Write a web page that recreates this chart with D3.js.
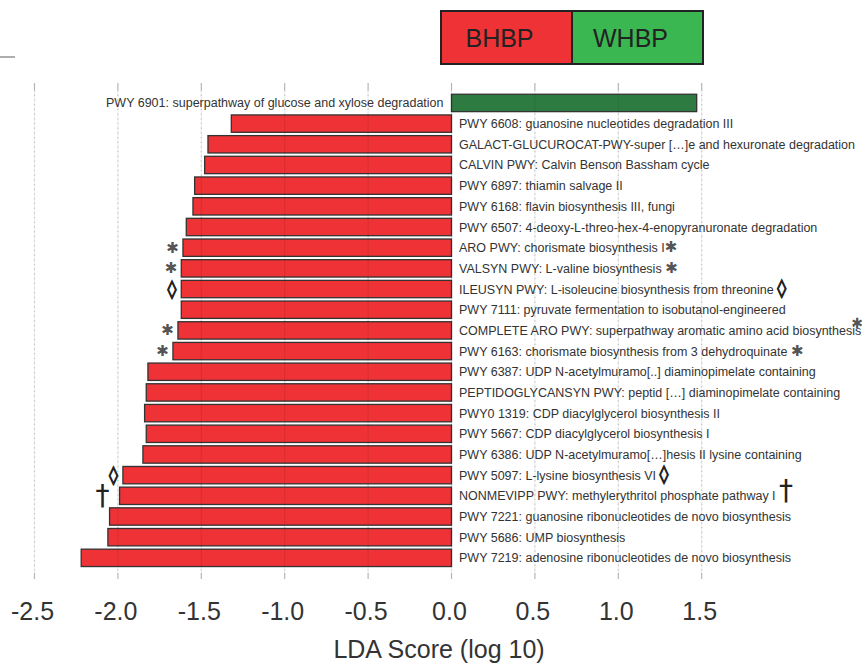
<!DOCTYPE html>
<html>
<head>
<meta charset="utf-8">
<script src="https://cdn.jsdelivr.net/npm/d3@7"></script>
<style>
  html, body { margin: 0; padding: 0; background: #fff; }
  svg { display: block; }
</style>
</head>
<body>
<svg id="chart" width="862" height="666"></svg>
<script>
// LEfSe pathways, top to bottom
const pathways = [
  "PWY 6901: superpathway of glucose and xylose degradation",
  "PWY 6608: guanosine nucleotides degradation III",
  "GALACT-GLUCUROCAT-PWY-super [\u2026]e and hexuronate degradation",
  "CALVIN PWY: Calvin Benson Bassham cycle",
  "PWY 6897: thiamin salvage II",
  "PWY 6168: flavin biosynthesis III, fungi",
  "PWY 6507: 4-deoxy-L-threo-hex-4-enopyranuronate degradation",
  "ARO PWY: chorismate biosynthesis I",
  "VALSYN PWY: L-valine biosynthesis",
  "ILEUSYN PWY: L-isoleucine biosynthesis from threonine",
  "PWY 7111: pyruvate fermentation to isobutanol-engineered",
  "COMPLETE ARO PWY: superpathway aromatic amino acid biosynthesis",
  "PWY 6163: chorismate biosynthesis from 3 dehydroquinate",
  "PWY 6387: UDP N-acetylmuramo[..] diaminopimelate containing",
  "PEPTIDOGLYCANSYN PWY: peptid [\u2026] diaminopimelate containing",
  "PWY0 1319: CDP diacylglycerol biosynthesis II",
  "PWY 5667: CDP diacylglycerol biosynthesis I",
  "PWY 6386: UDP N-acetylmuramo[\u2026]hesis II lysine containing",
  "PWY 5097: L-lysine biosynthesis VI",
  "NONMEVIPP PWY: methylerythritol phosphate pathway I",
  "PWY 7221: guanosine ribonucleotides de novo biosynthesis",
  "PWY 5686: UMP biosynthesis",
  "PWY 7219: adenosine ribonucleotides de novo biosynthesis"
];

// LDA scores (log 10); negative = enriched in BHBP
const ldaScores = [
  1.47, -1.32, -1.46, -1.48, -1.54, -1.55, -1.59, -1.61, -1.62, -1.62, -1.62, -1.64,
  -1.67, -1.82, -1.83, -1.84, -1.83, -1.85, -1.97, -1.99, -2.05, -2.06, -2.22
];

// Group that each pathway is enriched in
const groups = [
  "WHBP", "BHBP", "BHBP", "BHBP", "BHBP", "BHBP", "BHBP", "BHBP", "BHBP", "BHBP", "BHBP", "BHBP",
  "BHBP", "BHBP", "BHBP", "BHBP", "BHBP", "BHBP", "BHBP", "BHBP", "BHBP", "BHBP", "BHBP"
];

// Annotation symbols beside bar ends and after labels
const barMarks = [
  "", "", "", "", "", "", "", "\u2731", "\u2731", "\u25CA", "", "\u2731",
  "\u2731", "", "", "", "", "", "\u25CA", "\u2020", "", "", ""
];
const labelMarks = [
  "", "", "", "", "", "", "", "\u2731", " \u2731", " \u25CA", "", "^\u2731",
  " \u2731", "", "", "", "", "", " \u25CA", " \u2020", "", "", ""
];

const legendGroups = ["BHBP", "WHBP"];
const xTicks = [-2.5, -2.0, -1.5, -1.0, -0.5, 0.0, 0.5, 1.0, 1.5];
const xTitle = "LDA Score (log 10)";

const rows = pathways.map((name, i) => ({
  name, value: ldaScores[i], group: groups[i], barMark: barMarks[i], labelMark: labelMarks[i]
}));

const barFill = { BHBP: "#ee3236", WHBP: "#2e7b41" };
const legendFill = { BHBP: "#ee3236", WHBP: "#3bb752" };
const markStyle = {
  "\u2731": { size: 15, gap: 4, dy: 5, fill: "#555", stroke: "none" },
  "\u25CA": { size: 18, gap: 5, dy: 6, fill: "#222", stroke: "#222" },
  "\u2020": { size: 28, gap: 10, dy: 9, fill: "#222", stroke: "none" }
};

const svg = d3.select("#chart");
const font = "'Liberation Sans', Arial, Helvetica, sans-serif";

const x = d3.scaleLinear().domain([-2.5, 1.5]).range([34.5, 701.7]);
const y = d3.scaleBand().domain(pathways).range([92.6, 568.2]).paddingInner(0.16).paddingOuter(0.08);

const gridTop = 83, gridBottom = 579;

// stray rule at top left
svg.append("line").attr("x1", 0).attr("x2", 15).attr("y1", 57).attr("y2", 57)
  .attr("stroke", "#777").attr("stroke-width", 1.2);

// background dotted grid
const grid = svg.append("g");
grid.selectAll("line.dot").data(xTicks).join("line")
  .attr("class", "dot")
  .attr("x1", d => x(d)).attr("x2", d => x(d))
  .attr("y1", gridTop + 7).attr("y2", gridBottom - 6)
  .attr("stroke", "#cfcfcf").attr("stroke-width", 1.2).attr("stroke-dasharray", "1.2,3.5");
// short ticks above and below
[[gridTop, gridTop + 7], [gridBottom - 6, gridBottom]].forEach(([a, b]) => {
  grid.selectAll(null).data(xTicks).join("line")
    .attr("x1", d => x(d)).attr("x2", d => x(d))
    .attr("y1", a).attr("y2", b)
    .attr("stroke", "#b5b5b5").attr("stroke-width", 1.2);
});

// bars
svg.append("g").selectAll("rect").data(rows).join("rect")
  .attr("x", d => x(Math.min(0, d.value)))
  .attr("y", d => y(d.name))
  .attr("width", d => Math.abs(x(d.value) - x(0)))
  .attr("height", y.bandwidth())
  .attr("fill", d => barFill[d.group])
  .attr("stroke", "#333").attr("stroke-width", 1.3);

// faint grid showing through bars
svg.append("g").selectAll("line").data(xTicks).join("line")
  .attr("x1", d => x(d)).attr("x2", d => x(d))
  .attr("y1", gridTop + 7).attr("y2", gridBottom - 6)
  .attr("stroke", "#000").attr("stroke-opacity", 0.07).attr("stroke-width", 1.2);

// pathway labels
const labels = svg.append("g").selectAll("text").data(rows).join("text")
  .attr("x", d => d.value < 0 ? x(0) + 7.5 : x(0) - 8)
  .attr("y", d => y(d.name) + y.bandwidth() / 2 + 4.5)
  .attr("text-anchor", d => d.value < 0 ? "start" : "end")
  .attr("font-family", font).attr("font-size", 12.5).attr("fill", "#333");
labels.append("tspan").text(d => d.name);
labels.filter(d => d.labelMark).each(function(d) {
  const sup = d.labelMark.startsWith("^");
  const sym = d.labelMark.replace("^", "").trim();
  const lead = d.labelMark.startsWith(" ") ? "\u00a0" : "";
  const st = markStyle[sym];
  const t = d3.select(this);
  if (lead) t.append("tspan").text(lead);
  t.append("tspan")
    .attr("font-family", "'DejaVu Sans', sans-serif")
    .attr("font-size", sup ? st.size - 1 : st.size)
    .attr("fill", st.fill)
    .attr("stroke", st.stroke).attr("stroke-width", 1)
    .attr("dy", sup ? -7 : 0)
    .attr("dx", sup ? -10 : 0)
    .text(sym);
});

// markers beside bar ends
svg.append("g").selectAll("text").data(rows.filter(d => d.barMark)).join("text")
  .attr("x", d => x(d.value) - markStyle[d.barMark].gap)
  .attr("y", d => y(d.name) + y.bandwidth() / 2 + markStyle[d.barMark].dy)
  .attr("text-anchor", "end")
  .attr("font-family", "'DejaVu Sans', sans-serif")
  .attr("font-size", d => markStyle[d.barMark].size)
  .attr("fill", d => markStyle[d.barMark].fill)
  .attr("stroke", d => markStyle[d.barMark].stroke).attr("stroke-width", 1)
  .text(d => d.barMark);

// x tick labels
svg.append("g").selectAll("text").data(xTicks).join("text")
  .attr("x", d => x(d) - 2)
  .attr("y", 620)
  .attr("text-anchor", "middle")
  .attr("font-family", font).attr("font-size", 25).attr("fill", "#333")
  .text(d => d3.format(".1f")(d).replace("\u2212", "-"));

// axis title
svg.append("text")
  .attr("x", 439).attr("y", 658)
  .attr("text-anchor", "middle")
  .attr("font-family", font).attr("font-size", 25).attr("fill", "#333")
  .text(xTitle);

// legend
const legX = 441, legY = 11, legW = 131, legH = 53;
const leg = svg.append("g");
leg.selectAll("rect").data(legendGroups).join("rect")
  .attr("x", (d, i) => legX + i * legW).attr("y", legY)
  .attr("width", legW).attr("height", legH)
  .attr("fill", d => legendFill[d])
  .attr("stroke", "#222").attr("stroke-width", 2);
leg.selectAll("text").data(legendGroups).join("text")
  .attr("x", (d, i) => legX + i * legW + legW / 2 - 7)
  .attr("y", legY + 36)
  .attr("text-anchor", "middle")
  .attr("font-family", font).attr("font-size", 25).attr("fill", "#222")
  .text(d => d);
</script>
</body>
</html>
